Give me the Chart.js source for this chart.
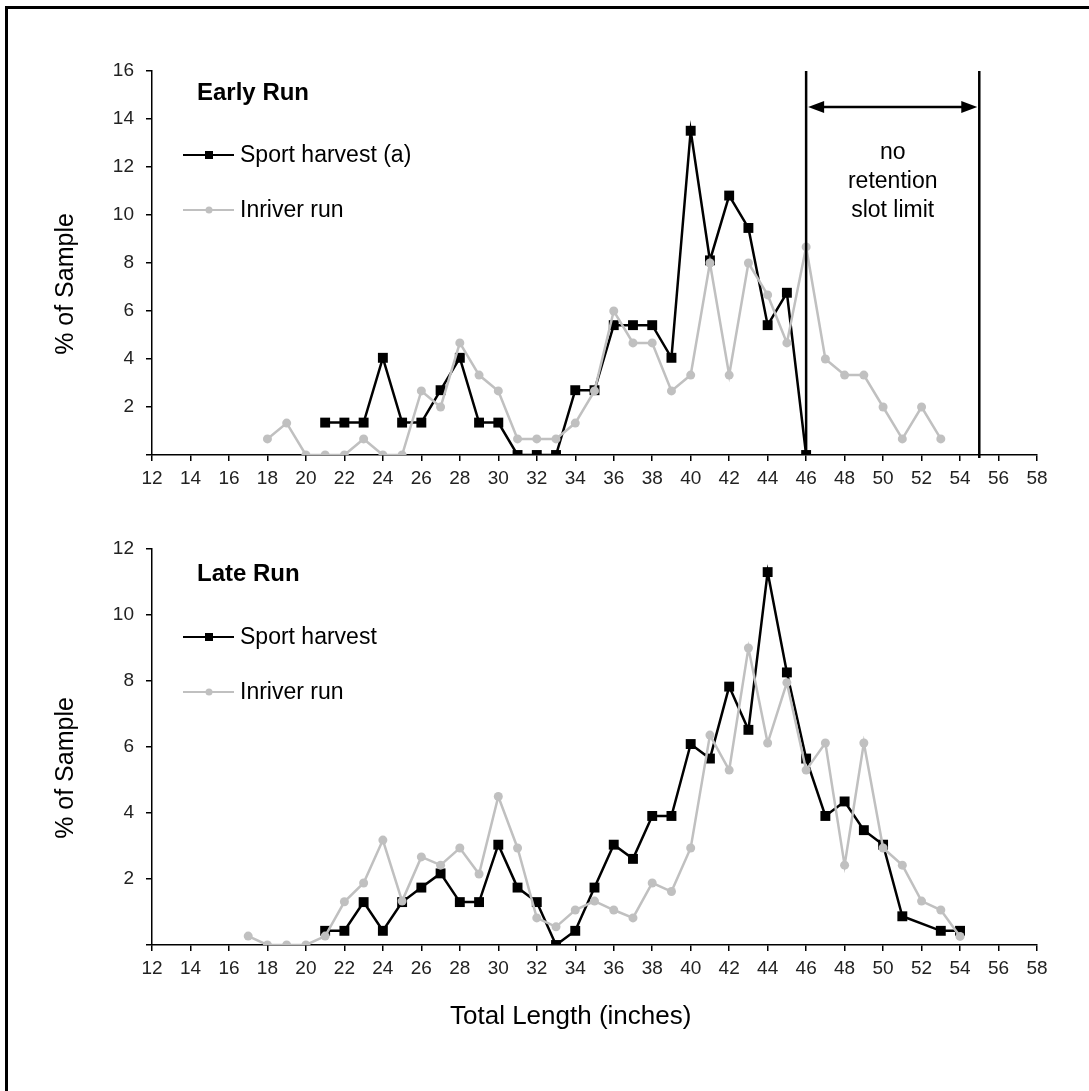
<!DOCTYPE html>
<html>
<head>
<meta charset="utf-8">
<script src="https://cdn.jsdelivr.net/npm/chart.js@4.4.1/dist/chart.umd.min.js"></script>
<style>
html, body { margin: 0; padding: 0; background: #fff; }
body { width: 1089px; height: 1091px; position: relative; overflow: hidden; }
#frame { position: absolute; left: 5px; top: 6px; width: 1200px; height: 1200px; border-left: 3px solid #000; border-top: 3px solid #000; }
.box { position: absolute; left: 0; width: 1089px; }
#boxEarly { top: 0; height: 500px; }
#boxLate { top: 500px; height: 591px; }
</style>
</head>
<body>
<div id="frame"></div>
<div class="box" id="boxEarly"><canvas id="early"></canvas></div>
<div class="box" id="boxLate"><canvas id="late"></canvas></div>
<script>
// Early run (top panel)
const earlyHarvestX   = [21,22,23,24,25,26,27,28,29,30,31,32,33,34,35,36,37,38,39,40,41,42,43,44,45,46];
const earlyHarvestPct = [1.35,1.35,1.35,4.05,1.35,1.35,2.70,4.05,1.35,1.35,0,0,0,2.70,2.70,5.41,5.41,5.41,4.05,13.51,8.11,10.81,9.46,5.41,6.76,0];
const earlyInriverX   = [18,19,20,21,22,23,24,25,26,27,28,29,30,31,32,33,34,35,36,37,38,39,40,41,42,43,44,45,46,47,48,49,50,51,52,53];
const earlyInriverPct = [0.67,1.33,0,0,0,0.67,0,0,2.67,2.00,4.67,3.33,2.67,0.67,0.67,0.67,1.33,2.67,6.00,4.67,4.67,2.67,3.33,8.00,3.33,8.00,6.67,4.67,8.67,4.00,3.33,3.33,2.00,0.67,2.00,0.67];

// Late run (bottom panel)
const lateHarvestX   = [21,22,23,24,25,26,27,28,29,30,31,32,33,34,35,36,37,38,39,40,41,42,43,44,45,46,47,48,49,50,51,53,54];
const lateHarvestPct = [0.43,0.43,1.30,0.43,1.30,1.74,2.17,1.30,1.30,3.04,1.74,1.30,0,0.43,1.74,3.04,2.61,3.91,3.91,6.09,5.65,7.83,6.52,11.30,8.26,5.65,3.91,4.35,3.48,3.04,0.87,0.43,0.43];
const lateInriverX   = [17,18,19,20,21,22,23,24,25,26,27,28,29,30,31,32,33,34,35,36,37,38,39,40,41,42,43,44,45,46,47,48,49,50,51,52,53,54];
const lateInriverPct = [0.27,0,0,0,0.27,1.31,1.88,3.18,1.33,2.67,2.42,2.94,2.15,4.50,2.94,0.82,0.55,1.06,1.33,1.06,0.82,1.88,1.62,2.94,6.36,5.30,9.00,6.12,7.95,5.30,6.12,2.42,6.12,2.94,2.42,1.33,1.06,0.26];

// axis ticks
const xTickMin = 12, xTickMax = 58, xTickStep = 2;
const earlyYMax = 16, lateYMax = 12, yTickStep = 2;

// no-retention slot limit (inches) shown on the early run
const slotLimit = [46, 55];
const slotText = ['no', 'retention', 'slot limit'];

const FONT = '"Liberation Sans", Arial, sans-serif';
const GREY = '#c0c0c0';

function toPoints(xs, ys) {
    return xs.map((x, i) => ({x: x, y: ys[i]}));
}

const overlay = {
    id: 'overlay',
    afterDatasetsDraw(chart, args, o) {
        const ctx = chart.ctx;
        const a = chart.chartArea;
        const xs = chart.scales.x, ys = chart.scales.y;
        ctx.save();
        ctx.fillStyle = '#000';
        ctx.textBaseline = 'middle';

        // panel title
        ctx.font = 'bold 24px ' + FONT;
        ctx.textAlign = 'left';
        ctx.fillText(o.title, a.left + 45, a.top + o.titleDy);

        // legend
        o.legend.forEach((item, i) => {
            const y = a.top + o.legendDy[i];
            ctx.strokeStyle = item.color;
            ctx.fillStyle = item.color;
            ctx.lineWidth = 2;
            ctx.beginPath();
            ctx.moveTo(a.left + 31, y);
            ctx.lineTo(a.left + 82, y);
            ctx.stroke();
            if (item.square) {
                ctx.fillRect(a.left + 53, y - 4, 8, 8);
            } else {
                ctx.beginPath();
                ctx.arc(a.left + 57, y, 3.5, 0, Math.PI * 2);
                ctx.fill();
            }
            ctx.fillStyle = '#000';
            ctx.font = '23px ' + FONT;
            ctx.fillText(item.text, a.left + 88, y + 1);
        });

        // y axis title
        ctx.save();
        ctx.translate(66, (a.top + a.bottom) / 2 + 21);
        ctx.rotate(-Math.PI / 2);
        ctx.textAlign = 'center';
        ctx.font = '25px ' + FONT;
        ctx.fillText('% of Sample', 0, 0);
        ctx.restore();

        // x axis title
        if (o.xTitle) {
            ctx.textAlign = 'left';
            ctx.font = '26px ' + FONT;
            ctx.fillText(o.xTitle, a.left + 298, a.bottom + 72);
        }

        // slot limit marks
        if (o.slot) {
            const x1 = xs.getPixelForValue(slotLimit[0]);
            const x2 = xs.getPixelForValue(slotLimit[1]);
            const yTop = ys.getPixelForValue(ys.max);
            const yBot = ys.getPixelForValue(0);
            const yArr = ys.getPixelForValue(14.5);
            ctx.strokeStyle = '#000';
            ctx.fillStyle = '#000';
            ctx.lineWidth = 2.5;
            ctx.beginPath();
            ctx.moveTo(x1, yTop); ctx.lineTo(x1, yBot);
            ctx.moveTo(x2, yTop); ctx.lineTo(x2, yBot + 3);
            ctx.moveTo(x1 + 10, yArr); ctx.lineTo(x2 - 10, yArr);
            ctx.stroke();
            ctx.beginPath();
            ctx.moveTo(x1 + 2, yArr); ctx.lineTo(x1 + 18, yArr - 6); ctx.lineTo(x1 + 18, yArr + 6);
            ctx.closePath();
            ctx.moveTo(x2 - 2, yArr); ctx.lineTo(x2 - 18, yArr - 6); ctx.lineTo(x2 - 18, yArr + 6);
            ctx.closePath();
            ctx.fill();
            ctx.textAlign = 'center';
            ctx.font = '23px ' + FONT;
            slotText.forEach((t, i) => {
                ctx.fillText(t, (x1 + x2) / 2, yArr + 46 + i * 29);
            });
        }
        ctx.restore();
    }
};

function axis(extra) {
    return Object.assign({
        grid: {drawOnChartArea: false, drawTicks: true, tickLength: 6, color: '#000', lineWidth: 1.5},
        border: {display: true, color: '#000', width: 1.5}
    }, extra);
}

function makeChart(id, cfg) {
    return new Chart(document.getElementById(id), {
        type: 'line',
        data: {
            datasets: [
                {
                    label: cfg.harvestLabel,
                    data: toPoints(cfg.harvestX, cfg.harvestPct),
                    borderColor: '#000', backgroundColor: '#000',
                    borderWidth: 2.5, pointStyle: 'rect', pointRadius: 7, pointBorderWidth: 0,
                    order: 1
                },
                {
                    label: 'Inriver run',
                    data: toPoints(cfg.inriverX, cfg.inriverPct),
                    borderColor: GREY, backgroundColor: GREY,
                    borderWidth: 2.5, pointStyle: 'circle', pointRadius: 4.5, pointBorderWidth: 0,
                    order: 0
                }
            ]
        },
        options: {
            responsive: true,
            maintainAspectRatio: false,
            animation: false,
            devicePixelRatio: 1,
            layout: {padding: {left: 0, right: 52, top: cfg.padTop, bottom: 0}},
            plugins: {
                legend: {display: false},
                tooltip: {enabled: false},
                overlay: cfg.overlay
            },
            scales: {
                x: axis({
                    type: 'linear', min: xTickMin, max: xTickMax,
                    ticks: {stepSize: xTickStep, autoSkip: false, maxRotation: 0, padding: 6,
                            color: '#222', font: {family: FONT, size: 19}},
                    afterFit: s => { s.height = cfg.xAxisHeight; }
                }),
                y: axis({
                    min: 0, max: cfg.yMax,
                    ticks: {stepSize: yTickStep, padding: 12, color: '#222', font: {family: FONT, size: 19},
                            callback: v => v === 0 ? '' : v},
                    afterFit: s => { s.width = 152; }
                })
            }
        },
        plugins: [overlay]
    });
}

makeChart('early', {
    harvestLabel: 'Sport harvest (a)',
    harvestX: earlyHarvestX, harvestPct: earlyHarvestPct,
    inriverX: earlyInriverX, inriverPct: earlyInriverPct,
    yMax: earlyYMax, padTop: 71, xAxisHeight: 45,
    overlay: {
        title: 'Early Run', titleDy: 22, legendDy: [84, 139],
        legend: [
            {text: 'Sport harvest (a)', color: '#000', square: true},
            {text: 'Inriver run', color: GREY, square: false}
        ],
        slot: true
    }
});

makeChart('late', {
    harvestLabel: 'Sport harvest',
    harvestX: lateHarvestX, harvestPct: lateHarvestPct,
    inriverX: lateInriverX, inriverPct: lateInriverPct,
    yMax: lateYMax, padTop: 49, xAxisHeight: 146,
    overlay: {
        title: 'Late Run', titleDy: 25, legendDy: [88, 143],
        legend: [
            {text: 'Sport harvest', color: '#000', square: true},
            {text: 'Inriver run', color: GREY, square: false}
        ],
        xTitle: 'Total Length (inches)',
        slot: false
    }
});
</script>
</body>
</html>
